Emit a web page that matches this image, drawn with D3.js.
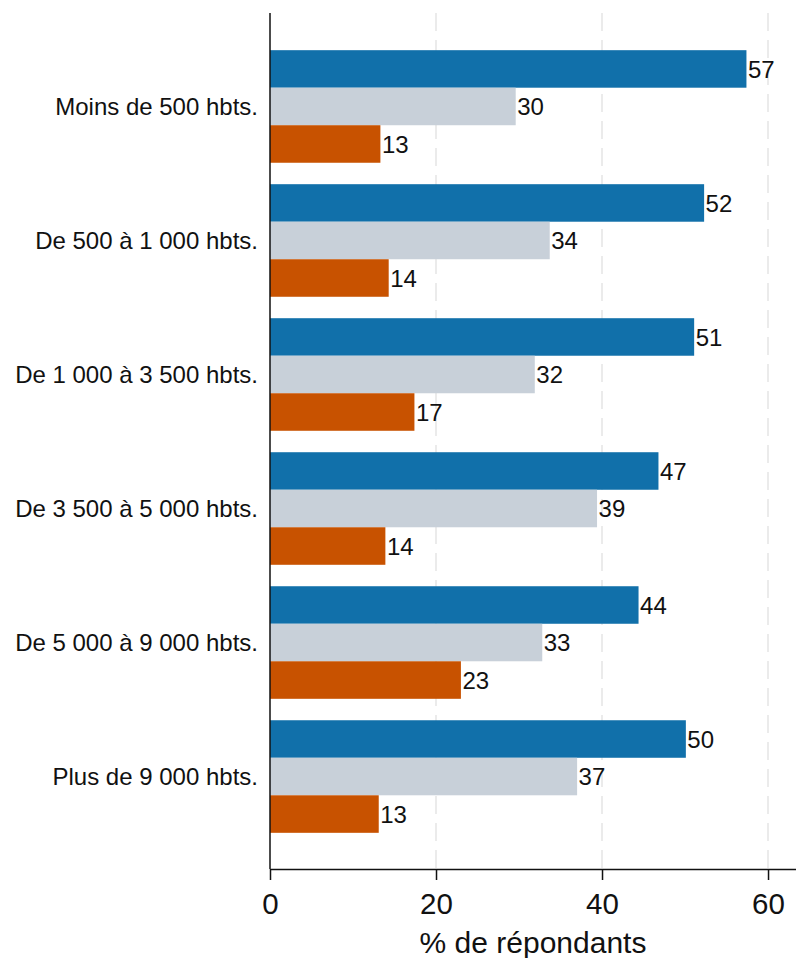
<!DOCTYPE html>
<html>
<head>
<meta charset="utf-8">
<script src="https://cdn.jsdelivr.net/npm/d3@7"></script>
<style>
  html, body { margin: 0; padding: 0; background: #fff; }
  svg { display: block; font-family: "Liberation Sans", Arial, sans-serif; }
</style>
</head>
<body>
<svg id="chart" width="796" height="958"></svg>
<script>
const categories = [
  "Moins de 500 hbts.",
  "De 500 à 1 000 hbts.",
  "De 1 000 à 3 500 hbts.",
  "De 3 500 à 5 000 hbts.",
  "De 5 000 à 9 000 hbts.",
  "Plus de 9 000 hbts."
];
const seriesNames = ["s1", "s2", "s3"];
const series1 = [57.4, 52.3, 51.1, 46.8, 44.4, 50.1];
const series2 = [29.6, 33.7, 31.9, 39.4, 32.8, 37.0];
const series3 = [13.3, 14.3, 17.4, 13.9, 23.0, 13.1];
const xTicks = [0, 20, 40, 60];
const xTitle = "% de répondants";
const colors = ["#1170aa", "#c8d0d9", "#c85200"];

const svg = d3.select("#chart");
const mLeft = 270, mRight = 796, mTop = 13, mBottom = 869;

const x = d3.scaleLinear().domain([0, 63.37]).range([mLeft, mRight]);
const y = d3.scaleBand().domain(categories).range([14, 869])
  .paddingInner(0.16).paddingOuter(0.27);
const ySub = d3.scaleBand().domain(seriesNames).range([0, y.bandwidth()]).padding(0);

const allSeries = [series1, series2, series3];

// gridlines
svg.append("g").selectAll("line")
  .data(xTicks.filter(d => d > 0))
  .join("line")
  .attr("x1", d => x(d)).attr("x2", d => x(d))
  .attr("y1", mTop).attr("y2", mBottom)
  .attr("stroke", "#ebebeb").attr("stroke-width", 2)
  .attr("stroke-dasharray", "18,9");

// bars
const groups = svg.append("g").selectAll("g")
  .data(categories)
  .join("g")
  .attr("transform", d => `translate(0,${y(d)})`);

groups.each(function(cat, i) {
  const g = d3.select(this);
  seriesNames.forEach((s, j) => {
    const v = allSeries[j][i];
    g.append("rect")
      .attr("x", x(0))
      .attr("y", ySub(s))
      .attr("width", x(v) - x(0))
      .attr("height", ySub.bandwidth())
      .attr("fill", colors[j]);
    g.append("text")
      .attr("x", x(v) + 1.5)
      .attr("y", ySub(s) + ySub.bandwidth() / 2)
      .attr("dy", "0.36em")
      .attr("font-size", 24)
      .attr("fill", "#111")
      .text(d3.format(".0f")(v));
  });
});

// category labels
svg.append("g").selectAll("text")
  .data(categories)
  .join("text")
  .attr("x", 258)
  .attr("y", d => y(d) + y.bandwidth() / 2)
  .attr("dy", "0.36em")
  .attr("text-anchor", "end")
  .attr("font-size", 24)
  .attr("fill", "#111")
  .text(d => d);

// y axis line
svg.append("line")
  .attr("x1", mLeft).attr("x2", mLeft)
  .attr("y1", mTop).attr("y2", mBottom)
  .attr("stroke", "#111").attr("stroke-width", 1.5);

// x axis
const xAxis = d3.axisBottom(x).tickValues(xTicks).tickSize(11).tickSizeOuter(0).tickPadding(12.7);
const ax = svg.append("g").attr("transform", `translate(0,${mBottom})`).call(xAxis);
ax.select(".domain").attr("stroke", "#111").attr("stroke-width", 1.5);
ax.selectAll(".tick line").attr("stroke", "#111").attr("stroke-width", 1.5);
ax.selectAll(".tick text").attr("font-size", 29.5).attr("fill", "#111")
  .attr("font-family", "'Liberation Sans', Arial, sans-serif");

svg.append("text")
  .attr("x", (mLeft + mRight) / 2)
  .attr("y", 953)
  .attr("text-anchor", "middle")
  .attr("font-size", 30)
  .attr("fill", "#111")
  .text(xTitle);
</script>
</body>
</html>
